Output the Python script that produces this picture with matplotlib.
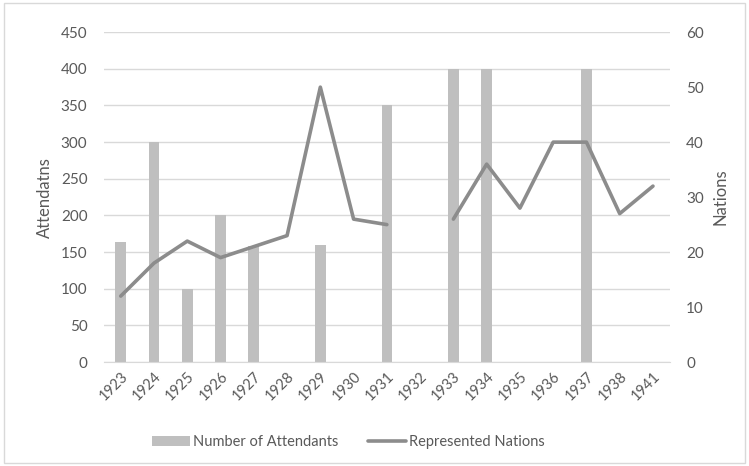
import matplotlib.pyplot as plt
import numpy as np
from matplotlib.patches import Rectangle

years = ["1923", "1924", "1925", "1926", "1927", "1928", "1929", "1930", "1931",
         "1932", "1933", "1934", "1935", "1936", "1937", "1938", "1941"]
attendants = [164, 300, 100, 200, 158, 0, 160, 0, 350, 0, 400, 400, 0, 0, 400, 0, 0]
nations = [12, 18, 22, 19, 21, 23, 50, 26, 25, np.nan, 26, 36, 28, 40, 40, 27, 32]

y_left_ticks = [0, 50, 100, 150, 200, 250, 300, 350, 400, 450]
y_right_ticks = [0, 10, 20, 30, 40, 50, 60]

TEXT = "#595959"
GRID = "#d9d9d9"


def main() -> None:
    plt.rcParams["font.family"] = ["Lato", "DejaVu Sans"]
    fig = plt.figure(figsize=(7.49, 4.66), dpi=100)
    ax = fig.add_axes([0.139, 0.223, 0.755, 0.708])
    ax2 = ax.twinx()

    x = np.arange(len(years))
    ax.bar(x, attendants, width=0.32, color="#bfbfbf", zorder=2,
           label="Number of Attendants")
    ax2.plot(x, nations, color="#8c8c8c", linewidth=2.6, solid_joinstyle="round",
             solid_capstyle="round", label="Represented Nations")

    ax.set_xlim(-0.5, len(years) - 0.5)
    ax.set_ylim(0, 450)
    ax2.set_ylim(0, 60)
    ax.set_yticks(y_left_ticks)
    ax2.set_yticks(y_right_ticks)
    ax.set_xticks(x)
    ax.set_xticklabels(years, rotation=45, ha="right", rotation_mode="anchor")

    ax.grid(axis="y", color=GRID, linewidth=1, zorder=0)
    ax.set_axisbelow(True)
    for a in (ax, ax2):
        for s in a.spines.values():
            s.set_visible(False)
        a.tick_params(length=0, colors=TEXT, labelsize=11)
    ax.spines["bottom"].set_visible(True)
    ax.spines["bottom"].set_color(GRID)
    ax.tick_params(axis="y", pad=12)
    ax2.tick_params(axis="y", pad=12)
    ax.tick_params(axis="x", labelsize=10.5, pad=5)

    ax.set_ylabel("Attendatns", color=TEXT, fontsize=12, labelpad=6)
    ax2.set_ylabel("Nations", color=TEXT, fontsize=12, rotation=90, labelpad=6)

    h1, l1 = ax.get_legend_handles_labels()
    h2, l2 = ax2.get_legend_handles_labels()
    fig.legend(h1 + h2, l1 + l2, loc="center", bbox_to_anchor=(0.465, 0.052),
               ncol=2, frameon=False, fontsize=10.5, labelcolor=TEXT,
               handlelength=2.6, handletextpad=0.2, columnspacing=2.0)

    fig.patches.append(Rectangle((0.006, 0.006), 0.988, 0.988, transform=fig.transFigure,
                                 fill=False, edgecolor=GRID, linewidth=1))

    fig.savefig("out.png", dpi=100)


if __name__ == "__main__":
    main()
